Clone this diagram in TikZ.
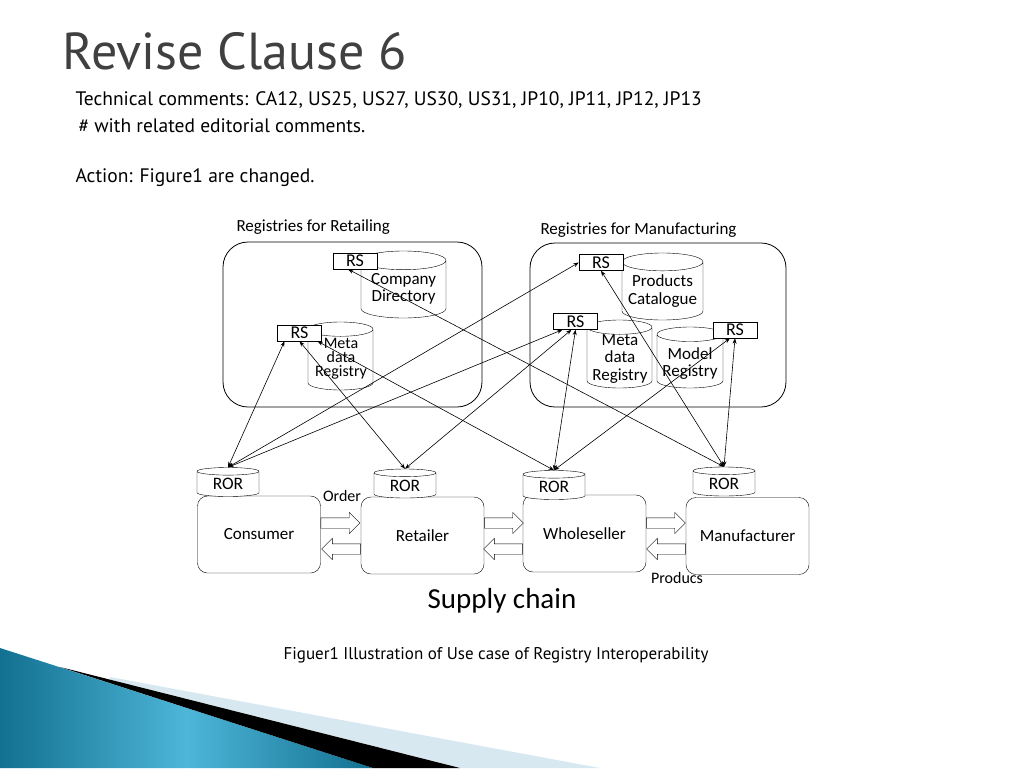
\documentclass[tikz,border=0pt]{standalone}
\usepackage{fontspec}
\setmainfont{PT Sans}
\newfontfamily\diagfont{Carlito}
\usetikzlibrary{shapes.geometric,shapes.arrows,arrows.meta}

\definecolor{titlegray}{HTML}{404040}
\definecolor{tealdark}{HTML}{137090}
\definecolor{teallight}{HTML}{4DB6D9}
\definecolor{bandblue}{HTML}{D8E8F1}

\tikzset{
	registry/.style={draw, rounded corners=25pt, thick},
	rsbox/.style={draw, fill=white, minimum width=44pt, minimum height=16pt, inner sep=0pt, font=\diagfont\fontsize{18}{18}\selectfont},
	store/.style 2 args={draw, fill=white, cylinder, shape border rotate=90, aspect=0.22, minimum width=#1, minimum height=#2, inner xsep=#1/2, inner ysep=0pt, anchor=shape center},
	storetext/.style={align=center, inner sep=0pt, font=\diagfont\fontsize{17}{17.5}\selectfont},
	ror/.style={draw, fill=white, cylinder, shape border rotate=90, aspect=0.25, minimum width=62pt, minimum height=29pt, inner sep=0pt, font=\diagfont\fontsize{17.5}{17.5}\selectfont},
	actor/.style={draw, fill=white, rounded corners=10pt, minimum width=123pt, minimum height=77pt, font=\diagfont\fontsize{17}{17}\selectfont},
	fatR/.style={draw, fill=white, single arrow, minimum height=39pt, inner xsep=0pt, inner ysep=5pt, single arrow head extend=5.5pt, anchor=tail},
	fatL/.style={fatR, shape border rotate=180},
	link/.style={<->, >={Stealth[length=5.5pt,width=4pt]}, line width=0.6pt},
	label/.style={font=\diagfont\fontsize{17}{17}\selectfont},
}

\begin{document}
\begin{tikzpicture}[x=1pt,y=-1pt]
	\useasboundingbox (0,0) rectangle (1024,768);

	% corner decoration
	\shade[left color=tealdark, right color=tealdark, middle color=teallight] (0,648) -- (373,768) -- (0,768) -- cycle;
	\fill[bandblue] (110,677) -- (600,768) -- (460,768) -- (110,679.6) -- cycle;
	\fill[black] (60,667) -- (460,768) -- (373,768) -- cycle;

	% slide text
	\node[anchor=base west, text=titlegray, font=\fontsize{52}{52}\selectfont] (title) at (59,70) {Revise Clause 6};
	\node[anchor=west, font=\fontsize{19.5}{19.5}\selectfont] (tech) at (72,100) {Technical comments: CA12, US25, US27, US30, US31, JP10, JP11, JP12, JP13};
	\node[anchor=west, font=\fontsize{19.5}{19.5}\selectfont] (edit) at (75,126) {\# with related editorial comments.};
	\node[anchor=west, font=\fontsize{19.5}{19.5}\selectfont] (action) at (72,178) {Action: Figure1 are changed.};

	% registries
	\node[registry, minimum width=259pt, minimum height=165pt] (retail) at (352.5,324.5) {};
	\node[registry, minimum width=256pt, minimum height=164pt] (manuf) at (658,325) {};
	\node[label, anchor=west] (retaillbl) at (233,227) {Registries for Retailing};
	\node[label, anchor=west] (manuflbl) at (537,230) {Registries for Manufacturing};

	\node[store={85pt}{67pt}] (compdir) at (403.5,284.5) {};
	\node[store={65pt}{68pt}] (metaret) at (340.5,356) {};
	\node[store={81pt}{67pt}] (prodcat) at (662.5,286.5) {};
	\node[store={65pt}{68pt}] (metaman) at (619.5,354) {};
	\node[store={66pt}{61pt}] (modelreg) at (690,357.5) {};
	\node[storetext] (compdirtxt) at (403.5,289) {Company\\Directory};
	\node[storetext, font=\diagfont\fontsize{16}{14}\selectfont] (metarettxt) at (341,359) {Meta\\data\\Registry};
	\node[storetext] (prodcattxt) at (662.5,291) {Products\\Catalogue};
	\node[storetext] (metamantxt) at (620,359) {Meta\\data\\Registry};
	\node[storetext] (modelregtxt) at (690,363.5) {Model\\Registry};

	\node[rsbox] (rs1) at (355,261) {RS};
	\node[rsbox] (rs2) at (299.5,333) {RS};
	\node[rsbox] (rs3) at (601,262.5) {RS};
	\node[rsbox] (rs4) at (575.5,321.5) {RS};
	\node[rsbox] (rs5) at (735,330) {RS};

	% supply chain
	\node[actor] (consumer) at (259,534.5) {Consumer};
	\node[actor] (retailer) at (422.5,535.5) {Retailer};
	\node[actor] (wholeseller) at (584.5,533.5) {Wholeseller};
	\node[actor] (manufacturer) at (747.5,536) {Manufacturer};

	\node[ror] (cror) at (228,484) {ROR};
	\node[ror] (rror) at (405,485.5) {ROR};
	\node[ror] (wror) at (554,487) {ROR};
	\node[ror] (mror) at (724,483.5) {ROR};

	\coordinate (rowR) at (0,523);
	\coordinate (rowL) at (0,549);
	\node[fatR] (o1) at (consumer.east |- rowR) {};
	\node[fatL] (p1) at (retailer.west |- rowL) {};
	\node[fatR] (o2) at (retailer.east |- rowR) {};
	\node[fatL] (p2) at (wholeseller.west |- rowL) {};
	\node[fatR] (o3) at (wholeseller.east |- rowR) {};
	\node[fatL] (p3) at (manufacturer.west |- rowL) {};

	\node[font=\diagfont\fontsize{16}{16}\selectfont] (order) at (342,496) {Order};
	\node[font=\diagfont\fontsize{16}{16}\selectfont] (producs) at (677,578) {Producs};
	\node[font=\diagfont\fontsize{29}{29}\selectfont] (chain) at (502,601) {Supply chain};

	% links between registries and RORs
	\draw[link] ([xshift=-15pt]rs2.south) -- (cror.north);
	\draw[link] (rs2.south) -- (rror.north);
	\draw[link] ([xshift=18pt]rs2.south) -- (wror.north);
	\draw[link] ([xshift=-7pt]rs1.south) -- (mror.north);
	\draw[link] (rs3.west) -- (cror.north);
	\draw[link] (rs3.south) -- (mror.north);
	\draw[link] ([xshift=-13pt]rs4.south) -- (cror.north);
	\draw[link] ([xshift=-4pt]rs4.south) -- (rror.north);
	\draw[link] (rs4.south) -- (wror.north);
	\draw[link] ([xshift=-5pt]rs5.south) -- (wror.north);
	\draw[link] (rs5.south) -- (mror.north);

	% caption
	\node[font=\fontsize{17}{17}\selectfont] (caption) at (496,655) {Figuer1 Illustration of Use case of Registry Interoperability};

\end{tikzpicture}
\end{document}
